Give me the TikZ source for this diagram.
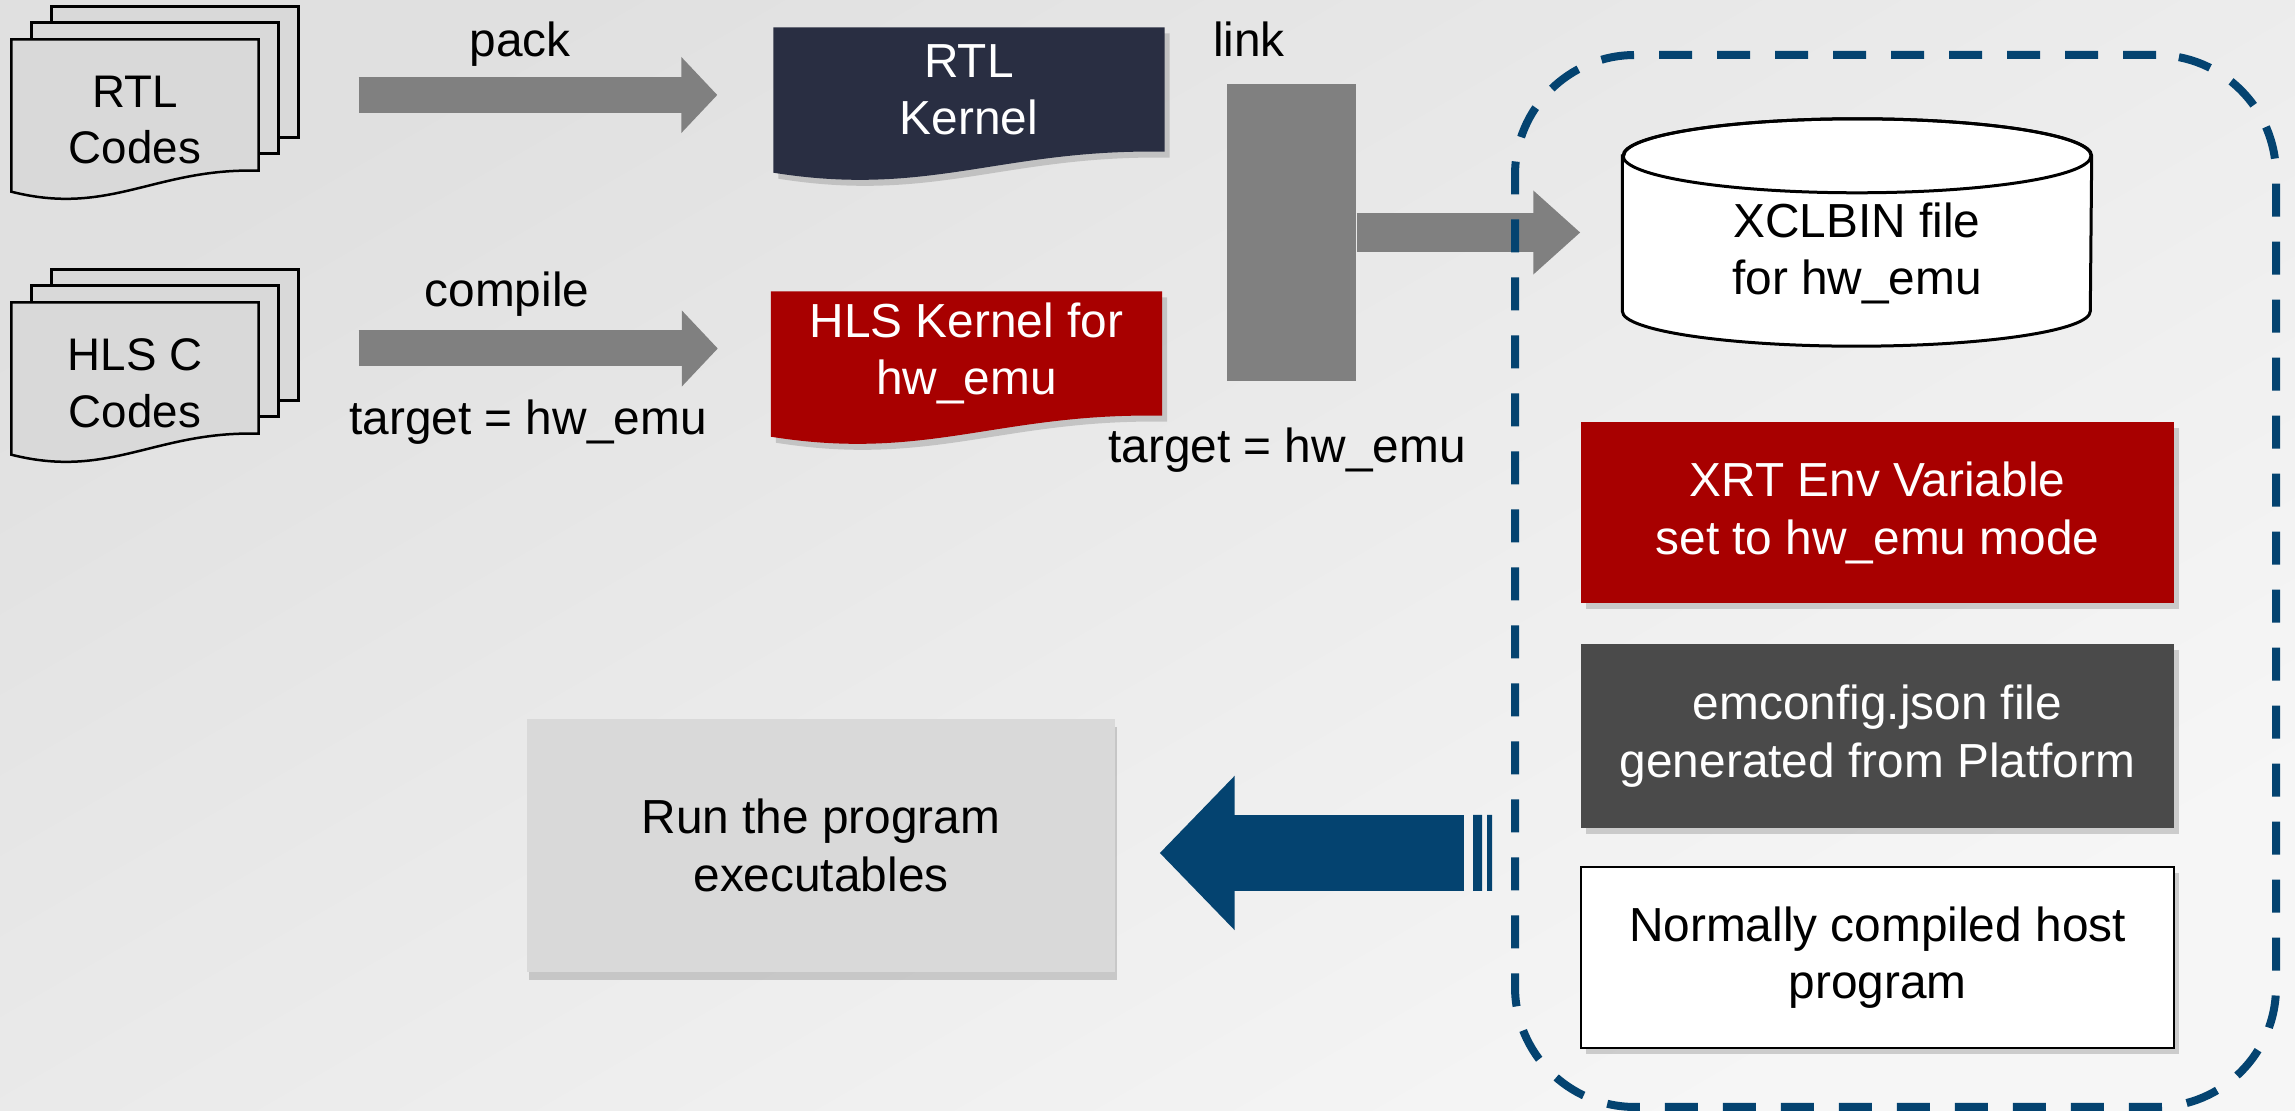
\documentclass[tikz,border=0pt]{standalone}
\usepackage{fontspec}
\setmainfont{Liberation Sans}
\usetikzlibrary{arrows.meta,shadows,backgrounds}

\definecolor{bgtop}{RGB}{224,224,224}
\definecolor{bgbottom}{RGB}{246,246,246}
\definecolor{pagegray}{RGB}{217,217,217}
\definecolor{kernelnavy}{RGB}{41,46,66}
\definecolor{xilred}{RGB}{168,0,0}
\definecolor{configgray}{RGB}{74,74,74}
\definecolor{arrowgray}{RGB}{128,128,128}
\definecolor{hostblue}{RGB}{4,67,112}

\newcommand{\wavedoc}[3]{%
  \path[#2] (#1.north west) -- (#1.north east) -- (#1.south east)
    .. controls +(-0.42*#3,-3) and +(0.4*#3,25) .. ([yshift=-2.1mm]#1.south west) -- cycle;}

\tikzset{
  txt/.style={font=\fontsize{13.6}{16.3}\selectfont, align=center, inner sep=0pt},
  codes/.style={minimum width=24.6mm, minimum height=13mm, inner sep=0pt},
  codetext/.style={font=\fontsize{13}{16.2}\selectfont, align=center, inner sep=0pt, yshift=-1.5mm},
  codepage/.style={fill=pagegray, draw=black, line width=0.25mm},
  softshadow/.style={drop shadow={shadow xshift=0.5mm, shadow yshift=-0.6mm, opacity=0.35}},
  kernel/.style={txt, text=white, minimum width=39mm, minimum height=12.3mm},
  infobox/.style={txt, minimum width=59.3mm, minimum height=18.1mm, softshadow},
  fatarrow/.style={draw=arrowgray, line width=3.6mm, -{Triangle[length=3.6mm, width=7.4mm]}},
}

\begin{document}
\begin{tikzpicture}[x=0.1mm, y=-0.1mm]
  \useasboundingbox (0,0) rectangle (2295,1111);

  \node[codes, label={[codetext]center:{RTL\\Codes}}] (rtlcodes) at (135,105) {};
  \node[codes, label={[codetext]center:{HLS C\\Codes}}] (hlscodes) at (135,368) {};
  \node[kernel] (rtlkernel) at (969,89.5) {RTL\\Kernel};
  \node[kernel] (hlskernel) at (966.5,353.5) {HLS Kernel for\\hw\_emu};

  \node[txt, anchor=base] (packlabel) at (520,57) {pack};
  \node[txt, anchor=base] (compilelabel) at (507,307) {compile};
  \node[txt, anchor=base] (hlstarget) at (528,435) {target = hw\_emu};
  \node[txt, anchor=base] (linklabel) at (1249,57) {link};
  \node[txt, anchor=base] (linktarget) at (1287,463) {target = hw\_emu};

  \node[fill=arrowgray, minimum width=12.9mm, minimum height=29.7mm, inner sep=0pt] (linkbar) at (1291.5,232.5) {};
  \node[minimum width=46.8mm, minimum height=22.6mm, inner sep=0pt,
        label={[txt, yshift=-2.1mm]center:{XCLBIN file\\for hw\_emu}}] (xclbin) at (1857,232.5) {};

  \node[infobox, fill=xilred, text=white] (xrtenv) at (1877.5,513) {XRT Env Variable\\set to hw\_emu mode};
  \node[infobox, fill=configgray, text=white, minimum height=18.4mm] (emconfig) at (1877.5,736) {emconfig.json file\\generated from Platform};
  \node[infobox, fill=white, draw=black, line width=0.25mm] (hostprog) at (1877.5,957.5) {Normally compiled host\\program};
  \node[txt, fill=pagegray, minimum width=58.8mm, minimum height=25.3mm,
        drop shadow={shadow xshift=0.2mm, shadow yshift=-0.8mm, opacity=0.35}] (run) at (821,845.5) {Run the program\\executables};

  \begin{scope}[on background layer]
    \shade[top color=bgtop, bottom color=bgbottom, shading angle=30] (0,0) rectangle (2295,1111);
    \foreach \n in {rtlcodes,hlscodes} {
      \draw[codepage] ([shift={(40,-33)}]\n.north west) rectangle ([shift={(40,-33)}]\n.south east);
      \draw[codepage] ([shift={(20,-17)}]\n.north west) rectangle ([shift={(20,-17)}]\n.south east);
      \wavedoc{\n}{codepage}{246}
    }
    \wavedoc{rtlkernel}{fill=kernelnavy, softshadow}{390}
    \wavedoc{hlskernel}{fill=xilred, softshadow}{390}
    \draw[fill=white, line width=0.3mm] ([yshift=-3.7mm]xclbin.north west) -- ([yshift=3.5mm]xclbin.south west)
      arc[start angle=180, end angle=360, x radius=23.4mm, y radius=3.5mm]
      -- ([yshift=-3.7mm]xclbin.north east)
      arc[start angle=0, end angle=180, x radius=23.4mm, y radius=3.7mm] -- cycle;
    \draw[line width=0.3mm] ([yshift=-3.7mm]xclbin.north) ellipse [x radius=23.4mm, y radius=3.7mm];
  \end{scope}

  \draw[fatarrow, shorten <=10mm, shorten >=5.6mm]
    ([yshift=-0.55mm]rtlcodes.east |- rtlkernel.west) -- ([yshift=-0.55mm]rtlkernel.west);
  \draw[fatarrow, shorten <=10mm, shorten >=5.3mm]
    ([yshift=0.5mm]hlscodes.east |- hlskernel.west) -- ([yshift=0.5mm]hlskernel.west);
  \draw[draw=arrowgray, line width=3.9mm, -{Triangle[length=4.7mm, width=8.1mm]}, shorten >=4.2mm] (linkbar.east) -- (xclbin.west);

  \node[draw=hostblue, line width=0.8mm, dash pattern=on 3.3mm off 2.5mm, rounded corners=12mm,
        minimum width=76.1mm, minimum height=105.2mm] (hostbox) at (1895.5,581) {};

  \coordinate (backy) at ([yshift=-0.75mm]run.east);
  \draw[draw=hostblue, line width=7.6mm, -{Triangle[length=7.5mm, width=15mm]}, shorten <=4.7mm, shorten >=4.4mm]
    (backy -| hostbox.west) -- (backy);
  \fill[hostblue] (1473,815) rectangle (1482,891) (1487,815) rectangle (1492,891);
\end{tikzpicture}
\end{document}
